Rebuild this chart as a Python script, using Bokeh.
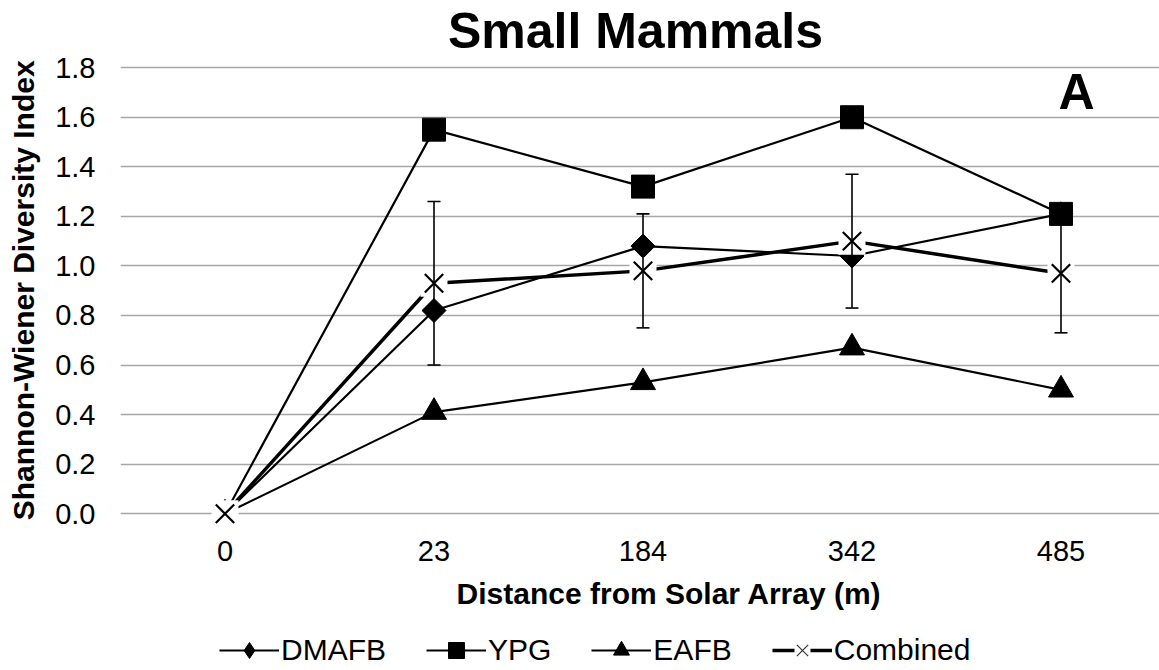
from bokeh.plotting import figure
from bokeh.layouts import column
from bokeh.models import (ColumnDataSource, Range1d, FixedTicker, Legend, LegendItem,
                          Whisker, TeeHead, Label)
from bokeh.embed import file_html
from bokeh.resources import INLINE
import math

# Shannon-Wiener diversity of small mammals by distance from the solar array
distances = ["0", "23", "184", "342", "485"]
dmafb = [0.0, 0.82, 1.08, 1.04, 1.21]
ypg = [0.0, 1.55, 1.32, 1.60, 1.21]
eafb = [0.0, 0.41, 0.53, 0.67, 0.50]
combined = [0.0, 0.93, 0.98, 1.10, 0.97]
combined_err = [0.0, 0.33, 0.23, 0.27, 0.24]
y_ticks = [0.0, 0.2, 0.4, 0.6, 0.8, 1.0, 1.2, 1.4, 1.6, 1.8]
series_names = ["DMAFB", "YPG", "EAFB", "Combined"]
chart_title = "Small Mammals"
panel_tag = "A"

xs = list(range(len(distances)))
src = ColumnDataSource(dict(
    x=xs, dmafb=dmafb, ypg=ypg, eafb=eafb, combined=combined,
))
err_src = ColumnDataSource(dict(
    x=xs[1:],
    upper=[c + e for c, e in zip(combined[1:], combined_err[1:])],
    lower=[c - e for c, e in zip(combined[1:], combined_err[1:])],
))

FONT = "Liberation Sans"
NB = "\u00a0"
PX_PER_UNIT = 247.8          # vertical scale of the plotting area
FRAME_H = 538

p = figure(width=1159, height=630, output_backend="svg", toolbar_location=None,
           x_range=Range1d(-0.5, -0.5 + 1039 / 209),
           y_range=Range1d(-0.1, -0.1 + FRAME_H / PX_PER_UNIT),
           min_border_left=120, min_border_right=0, min_border_top=0,
           min_border_bottom=630 - FRAME_H, outline_line_color=None)
p.title.visible = False

# axes (no axis lines; the 0.0 grid line acts as the baseline)
p.xaxis.ticker = FixedTicker(ticks=xs)
p.xaxis.major_label_overrides = {i: d for i, d in enumerate(distances)}
p.yaxis.ticker = FixedTicker(ticks=y_ticks)
p.yaxis.major_label_overrides = {t: f"{t:.1f}" for t in y_ticks}
for ax in (p.xaxis, p.yaxis):
    ax.axis_line_color = None
    ax.major_tick_line_color = None
    ax.minor_tick_line_color = None
    ax.major_tick_in = 0
    ax.major_tick_out = 0
    ax.major_label_text_font = FONT
    ax.major_label_text_font_size = "29px"
    ax.major_label_text_color = "black"
    ax.axis_label_text_font = FONT
    ax.axis_label_text_font_style = "bold"
    ax.axis_label_text_color = "black"
p.xaxis.axis_label = NB * 7 + "Distance from Solar Array (m)"
p.xaxis.axis_label_text_font_size = "30px"
p.xaxis.major_label_standoff = 2
p.xaxis.axis_label_standoff = 13
p.yaxis.axis_label = "Shannon-Wiener Diversity Index" + NB * 5
p.yaxis.axis_label_text_font_size = "30px"
p.yaxis.major_label_standoff = 25
p.yaxis.axis_label_standoff = 12

p.xgrid.grid_line_color = None
p.ygrid.grid_line_color = "#a6a6a6"
p.ygrid.grid_line_width = 1.6

# series
p.line("x", "dmafb", source=src, line_color="black", line_width=2.2)
p.scatter("x", "dmafb", source=src, marker="square", angle=math.pi / 4,
          size=17, fill_color="black", line_color="black")
p.line("x", "ypg", source=src, line_color="black", line_width=2.2)
p.scatter("x", "ypg", source=src, marker="square", size=23,
          fill_color="black", line_color="black")
p.line("x", "eafb", source=src, line_color="black", line_width=2.2)
p.scatter("x", "eafb", source=src, marker="triangle", size=25,
          fill_color="black", line_color="black")

p.line("x", "combined", source=src, line_color="black", line_width=3.5)
p.add_layout(Whisker(base="x", upper="upper", lower="lower", source=err_src,
                     line_color="black", line_width=1.6,
                     upper_head=TeeHead(size=13, line_width=1.6, line_color="black"),
                     lower_head=TeeHead(size=13, line_width=1.6, line_color="black"),
                     level="glyph"))
p.scatter("x", "combined", source=src, marker="square", size=27,
          fill_color="white", line_color=None)
p.scatter("x", "combined", source=src, marker="x", size=26,
          line_color="black", line_width=2.2)

# title and panel tag, placed in the headroom above 1.8
p.add_layout(Label(x=1.964, y=1.950, text=chart_title, text_font=FONT,
                   text_font_size="50px", text_font_style="bold",
                   text_align="center", text_baseline="alphabetic",
                   text_color="black"))
p.add_layout(Label(x=4.074, y=1.700, text=panel_tag, text_font=FONT,
                   text_font_size="50px", text_font_style="bold",
                   text_align="center", text_baseline="alphabetic",
                   text_color="black"))

# legend strip below the chart; its keys reuse the series data, kept out of view
lf = figure(width=1159, height=40, output_backend="svg", toolbar_location=None,
            x_axis_type=None, y_axis_type=None, min_border=0,
            outline_line_color=None, x_range=Range1d(0, 1), y_range=Range1d(10, 11))
lf.xgrid.visible = False
lf.ygrid.visible = False

k_l1 = lf.line("x", "dmafb", source=src, line_color="black", line_width=2.2)
k_m1 = lf.scatter("x", "dmafb", source=src, marker="diamond", size=16,
                  fill_color="black", line_color="black")
k_l2 = lf.line("x", "ypg", source=src, line_color="black", line_width=2.2)
k_m2 = lf.scatter("x", "ypg", source=src, marker="square", size=16,
                  fill_color="black", line_color="black")
k_l3 = lf.line("x", "eafb", source=src, line_color="black", line_width=2.2)
k_m3 = lf.scatter("x", "eafb", source=src, marker="triangle", size=16,
                  fill_color="black", line_color="black")
k_l4 = lf.line("x", "combined", source=src, line_color="black", line_width=3.5)
k_b4 = lf.scatter("x", "combined", source=src, marker="square", size=16,
                  fill_color="white", line_color=None)
k_m4 = lf.scatter("x", "combined", source=src, marker="x", size=16,
                  line_color="#333333", line_width=1.2)

legend = Legend(items=[
    LegendItem(label=series_names[0], renderers=[k_l1, k_m1]),
    LegendItem(label=series_names[1], renderers=[k_l2, k_m2]),
    LegendItem(label=series_names[2], renderers=[k_l3, k_m3]),
    LegendItem(label=series_names[3], renderers=[k_l4, k_b4, k_m4]),
], orientation="horizontal", location=(99, 0), border_line_color=None,
    background_fill_alpha=0, label_text_font=FONT, label_text_font_size="30px",
    label_text_color="black", glyph_width=60, glyph_height=40, spacing=40,
    label_standoff=2, padding=0, margin=0)
lf.add_layout(legend, "center")

open("out.html", "w").write(file_html(column(p, lf), INLINE))
